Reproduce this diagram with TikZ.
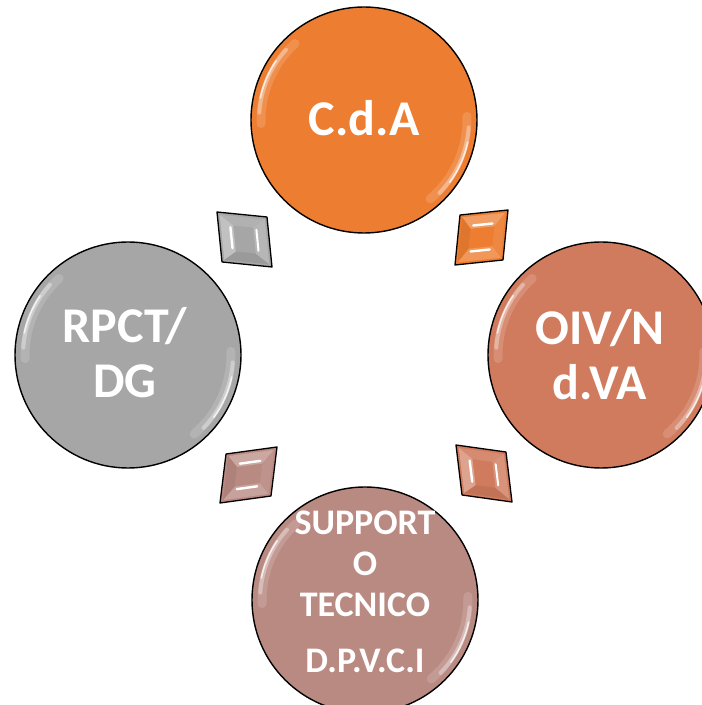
\documentclass[tikz,border=0pt]{standalone}
\usepackage{fontspec}
\setmainfont{Carlito}
\definecolor{cOrange}{HTML}{ED7D31}
\definecolor{cBrown}{HTML}{D07B5D}
\definecolor{cPink}{HTML}{B98A82}
\definecolor{cGray}{HTML}{A6A6A6}
\newcommand\gemV[2]{%
\begin{scope}[cm={#1}]
\fill[#2] (0,0) rectangle (1,1);
\fill[#2!88!white] (0.05,0.95) -- (0.3,0.76) -- (0.7,0.76) -- (0.95,0.95) -- cycle;
\fill[#2!93!black] (0.05,0.05) -- (0.3,0.24) -- (0.7,0.24) -- (0.95,0.05) -- cycle;
\fill[#2!70!white] (0.05,0.05) -- (0.3,0.24) -- (0.3,0.76) -- (0.05,0.95) -- cycle;
\fill[#2!82!white] (0.95,0.05) -- (0.7,0.24) -- (0.7,0.76) -- (0.95,0.95) -- cycle;
\draw[white, line width=2.4pt, line cap=round] (0.24,0.3) -- (0.24,0.72);
\draw[white, line width=2pt, line cap=round] (0.76,0.3) -- (0.76,0.72);
\draw[black, line width=1.3pt, line join=round] (0,0) -- (1,0) -- (1,1) -- (0,1) -- cycle;
\end{scope}}
\newcommand\gemH[2]{%
\begin{scope}[cm={#1}]
\fill[#2] (0,0) rectangle (1,1);
\fill[#2!75!white] (0.05,0.95) -- (0.25,0.7) -- (0.75,0.7) -- (0.95,0.95) -- cycle;
\fill[#2!80!white] (0.05,0.05) -- (0.25,0.3) -- (0.75,0.3) -- (0.95,0.05) -- cycle;
\fill[#2!94!black] (0.05,0.05) -- (0.25,0.3) -- (0.25,0.7) -- (0.05,0.95) -- cycle;
\fill[#2!92!white] (0.95,0.05) -- (0.75,0.3) -- (0.75,0.7) -- (0.95,0.95) -- cycle;
\draw[white, line width=2.4pt, line cap=round] (0.3,0.76) -- (0.7,0.76);
\draw[white, line width=2.4pt, line cap=round] (0.3,0.24) -- (0.7,0.24);
\draw[black, line width=1.3pt, line join=round] (0,0) -- (1,0) -- (1,1) -- (0,1) -- cycle;
\end{scope}}
\begin{document}
\begin{tikzpicture}[x=1pt,y=1pt,
  ball/.style={circle, draw=black, line width=1.4pt, minimum size=226pt, inner sep=0pt},
  lbl/.style={text=white, font=\bfseries\fontsize{50}{55}\selectfont, align=center, inner sep=0pt},
  slbl/.style={text=white, font=\bfseries\fontsize{36}{41}\selectfont, align=center, inner sep=0pt},
]
\useasboundingbox (0,0) rectangle (702,705);
\clip (0,0) rectangle (702,705);
% circles
\node[ball, fill=cOrange] (cda) at (364,585) {};
\node[ball, fill=cBrown] (oiv) at (601,350) {};
\node[ball, fill=cPink] (sup) at (365,105) {};
\node[ball, fill=cGray] (rpct) at (128,350) {};
% gloss
\foreach \c in {cda,oiv,sup,rpct} {
  \draw[white, opacity=0.15, line width=9pt, line cap=round] ([shift={(132:103)}]\c.center) arc[start angle=132, end angle=182, radius=103];
  \draw[white, opacity=0.35, line width=4pt, line cap=round] ([shift={(138:105)}]\c.center) arc[start angle=138, end angle=176, radius=105];
  \draw[white, opacity=0.75, line width=1.6pt, line cap=round] ([shift={(146:106)}]\c.center) arc[start angle=146, end angle=168, radius=106];
  \draw[white, opacity=0.15, line width=9pt, line cap=round] ([shift={(-50:103)}]\c.center) arc[start angle=-50, end angle=2, radius=103];
  \draw[white, opacity=0.35, line width=4pt, line cap=round] ([shift={(-44:105)}]\c.center) arc[start angle=-44, end angle=-4, radius=105];
  \draw[white, opacity=0.75, line width=1.6pt, line cap=round] ([shift={(-36:106)}]\c.center) arc[start angle=-36, end angle=-12, radius=106];
}
% labels
\node[lbl] (cdat) at (364,587) {C.d.A};
\node[lbl] (oivt) at (600,350) {OIV/N\\d.VA};
\node[lbl] (rpctt) at (125,352) {RPCT/\\DG};
\node[slbl] (supt) at (365,113) {SUPPORT\\O\\TECNICO\\[15pt]D.P.V.C.I};
% connectors
\gemV{50,-5,-5,50,(222,443)}{cGray}
\gemH{48,5,5,50,(455,440)}{cOrange}
\gemH{51,7,6,49,(220,202)}{cPink}
\gemV{50,-7,-6,50,(462,210)}{cBrown}
\end{tikzpicture}
\end{document}
